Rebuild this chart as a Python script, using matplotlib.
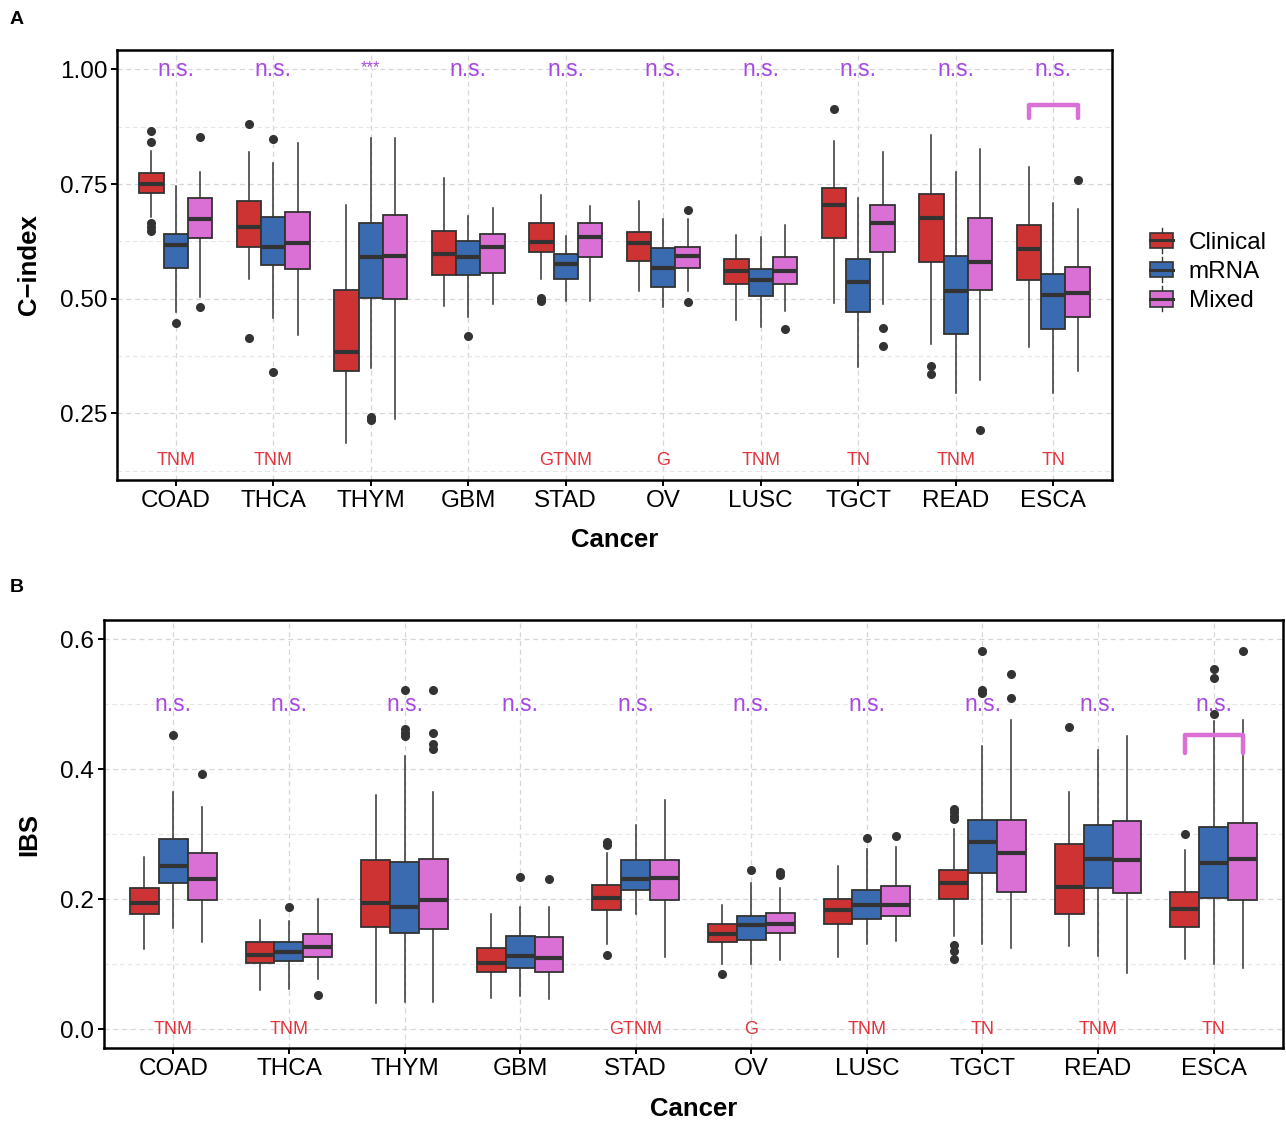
import matplotlib
matplotlib.use("Agg")
import matplotlib.pyplot as plt
from matplotlib.legend_handler import HandlerBase
from matplotlib.patches import Patch, Rectangle
from matplotlib.lines import Line2D
from matplotlib.ticker import MultipleLocator, FormatStrFormatter

plt.rcParams['font.family'] = ['Liberation Sans', 'DejaVu Sans']

cancers = ['COAD', 'THCA', 'THYM', 'GBM', 'STAD', 'OV', 'LUSC', 'TGCT', 'READ', 'ESCA']
methods = ['Clinical', 'mRNA', 'Mixed']
colors = ['#CD3333', '#3A6AB0', '#DA70D6']

# C-index per cancer: [Clinical, mRNA, Mixed] -> (whislo, q1, med, q3, whishi)
cidx_box = [
    [(0.679, 0.731, 0.750, 0.775, 0.823), (0.470, 0.567, 0.616, 0.642, 0.746), (0.504, 0.632, 0.673, 0.719, 0.776)],
    [(0.544, 0.613, 0.656, 0.713, 0.820), (0.457, 0.573, 0.613, 0.679, 0.795), (0.422, 0.564, 0.622, 0.688, 0.839)],
    [(0.186, 0.342, 0.385, 0.520, 0.705), (0.348, 0.502, 0.592, 0.664, 0.850), (0.239, 0.499, 0.593, 0.682, 0.850)],
    [(0.485, 0.551, 0.597, 0.648, 0.764), (0.461, 0.551, 0.590, 0.626, 0.680), (0.488, 0.557, 0.612, 0.642, 0.698)],
    [(0.544, 0.601, 0.623, 0.664, 0.727), (0.495, 0.542, 0.576, 0.598, 0.637), (0.495, 0.591, 0.634, 0.664, 0.702)],
    [(0.517, 0.583, 0.622, 0.645, 0.714), (0.483, 0.526, 0.567, 0.610, 0.674), (0.517, 0.567, 0.593, 0.613, 0.674)],
    [(0.453, 0.532, 0.560, 0.586, 0.639), (0.439, 0.507, 0.541, 0.564, 0.635), (0.474, 0.532, 0.560, 0.592, 0.661)],
    [(0.491, 0.632, 0.704, 0.741, 0.844), (0.352, 0.470, 0.536, 0.586, 0.720), (0.488, 0.602, 0.664, 0.704, 0.820)],
    [(0.401, 0.580, 0.677, 0.728, 0.857), (0.295, 0.424, 0.517, 0.594, 0.776), (0.323, 0.520, 0.580, 0.675, 0.826)],
    [(0.395, 0.540, 0.608, 0.661, 0.786), (0.294, 0.433, 0.508, 0.554, 0.708), (0.342, 0.461, 0.512, 0.570, 0.695)],
]
cidx_out = [
    [[0.865, 0.841, 0.666, 0.657, 0.648], [0.447], [0.852, 0.483]],
    [[0.881, 0.414], [0.849, 0.340], []],
    [[], [0.242, 0.236], []],
    [[], [0.419], []],
    [[0.501, 0.494], [], []],
    [[], [], [0.693, 0.493]],
    [[], [], [0.433]],
    [[0.914], [], [0.436, 0.397]],
    [[0.354, 0.336], [], [0.215]],
    [[], [], [0.758]],
]

# IBS per cancer
ibs_box = [
    [(0.124, 0.177, 0.194, 0.217, 0.266), (0.156, 0.226, 0.252, 0.293, 0.366), (0.134, 0.199, 0.231, 0.271, 0.343)],
    [(0.061, 0.103, 0.114, 0.135, 0.169), (0.062, 0.105, 0.119, 0.135, 0.167), (0.078, 0.111, 0.127, 0.147, 0.200)],
    [(0.040, 0.158, 0.194, 0.261, 0.360), (0.042, 0.149, 0.189, 0.258, 0.421), (0.042, 0.155, 0.199, 0.263, 0.366)],
    [(0.049, 0.089, 0.103, 0.126, 0.177), (0.051, 0.094, 0.113, 0.144, 0.189), (0.047, 0.089, 0.110, 0.142, 0.189)],
    [(0.132, 0.184, 0.203, 0.223, 0.272), (0.177, 0.214, 0.231, 0.261, 0.315), (0.111, 0.199, 0.233, 0.261, 0.353)],
    [(0.100, 0.135, 0.147, 0.163, 0.191), (0.100, 0.137, 0.161, 0.175, 0.226), (0.107, 0.149, 0.163, 0.179, 0.217)],
    [(0.111, 0.162, 0.184, 0.201, 0.252), (0.132, 0.170, 0.192, 0.214, 0.278), (0.136, 0.175, 0.191, 0.221, 0.281)],
    [(0.144, 0.201, 0.226, 0.245, 0.309), (0.132, 0.241, 0.289, 0.322, 0.436), (0.126, 0.212, 0.271, 0.322, 0.476)],
    [(0.128, 0.177, 0.219, 0.286, 0.366), (0.113, 0.217, 0.263, 0.315, 0.430), (0.087, 0.210, 0.261, 0.320, 0.452)],
    [(0.109, 0.157, 0.186, 0.212, 0.276), (0.100, 0.203, 0.256, 0.311, 0.475), (0.095, 0.199, 0.263, 0.318, 0.476)],
]
ibs_out = [
    [[], [0.453], [0.393]],
    [[], [0.189], [0.053]],
    [[], [0.522, 0.462, 0.456, 0.451], [0.522, 0.456, 0.439, 0.432]],
    [[], [0.234], [0.232]],
    [[0.289, 0.284, 0.115], [], []],
    [[0.086], [0.245], [0.243, 0.237]],
    [[], [0.294], [0.297]],
    [[0.339, 0.334, 0.328, 0.324, 0.130, 0.121, 0.108], [0.582, 0.523, 0.518], [0.547, 0.510]],
    [[0.466], [], []],
    [[0.301], [0.554, 0.540, 0.485], [0.582]],
]

cidx_sig = ['n.s.', 'n.s.', '***', 'n.s.', 'n.s.', 'n.s.', 'n.s.', 'n.s.', 'n.s.', 'n.s.']
ibs_sig = ['n.s.'] * 10
stage_labels = ['TNM', 'TNM', '', '', 'GTNM', 'G', 'TNM', 'TN', 'TNM', 'TN']

SIG_COL = '#A648E3'
STAGE_COL = '#E5333B'
EDGE = '#333333'


class BoxKey(HandlerBase):
    def create_artists(self, legend, orig_handle, xdescent, ydescent,
                       width, height, fontsize, trans):
        fc = orig_handle.get_facecolor()
        x0, y0 = -xdescent, -ydescent
        bh = height * 0.62
        by = y0 + (height - bh) / 2
        rect = Rectangle((x0, by), width, bh, facecolor=fc, edgecolor=EDGE,
                         lw=1.2, transform=trans)
        med = Line2D([x0, x0 + width], [y0 + height / 2] * 2, color=EDGE,
                     lw=2.2, transform=trans)
        wt = Line2D([x0 + width / 2] * 2, [by + bh, y0 + height], color=EDGE,
                    lw=1.0, transform=trans)
        wb = Line2D([x0 + width / 2] * 2, [y0, by], color=EDGE,
                    lw=1.0, transform=trans)
        return [wt, wb, rect, med]


def draw_panel(ax, boxes, outs, sig, sig_y, stage_y, ylim, major, minor, ylabel,
               bracket):
    width = 0.25
    for j in range(3):
        stats = []
        pos = []
        for i in range(len(cancers)):
            lo, q1, med, q3, hi = boxes[i][j]
            stats.append(dict(whislo=lo, q1=q1, med=med, q3=q3, whishi=hi,
                              fliers=outs[i][j]))
            pos.append(i + 1 + (j - 1) * width)
        ax.bxp(stats, positions=pos, widths=width, patch_artist=True,
               showcaps=False,
               boxprops=dict(facecolor=colors[j], edgecolor=EDGE, lw=1.3),
               medianprops=dict(color=EDGE, lw=3.0, solid_capstyle='butt'),
               whiskerprops=dict(color=EDGE, lw=1.1),
               flierprops=dict(marker='o', markerfacecolor=EDGE,
                               markeredgecolor=EDGE, markersize=5.5),
               zorder=3)
    for i in range(len(cancers)):
        if sig[i] == '***':
            ax.text(i + 1, sig_y + 0.004, sig[i], color=SIG_COL, fontsize=12,
                    ha='center', va='center', zorder=5)
        else:
            ax.text(i + 1, sig_y, sig[i], color=SIG_COL, fontsize=16.5,
                    ha='center', va='center', zorder=5)
        if stage_labels[i]:
            ax.text(i + 1, stage_y, stage_labels[i], color=STAGE_COL,
                    fontsize=13, ha='center', va='center', zorder=5)
    # comparison bracket (Clinical vs Mixed)
    bi, btop, bbot = bracket
    xl, xr = bi + 1 - width, bi + 1 + width
    ax.plot([xl, xl, xr, xr], [bbot, btop, btop, bbot], color='#DA70D6',
            lw=3.2, solid_capstyle='round', solid_joinstyle='round', zorder=6)

    ax.set_xlim(0.4, 10.6)
    ax.set_ylim(*ylim)
    ax.set_xticks(range(1, len(cancers) + 1))
    ax.set_xticklabels(cancers)
    ax.yaxis.set_major_locator(MultipleLocator(major))
    ax.yaxis.set_minor_locator(MultipleLocator(minor))
    ax.grid(True, which='major', axis='both', color='#D6D6D6', ls=(0, (4, 3)),
            lw=0.9, zorder=0)
    ax.grid(True, which='minor', axis='y', color='#E6E6E6', ls=(0, (4, 3)),
            lw=0.8, zorder=0)
    ax.set_axisbelow(True)
    ax.tick_params(axis='both', which='major', labelsize=17.5, length=4,
                   width=1.4, color='black', labelcolor='black', pad=3)
    ax.tick_params(axis='y', which='minor', length=0)
    for s in ax.spines.values():
        s.set_linewidth(1.8)
        s.set_color('black')
    ax.set_xlabel('Cancer', fontsize=18.5, fontweight='bold', labelpad=12)
    ax.set_ylabel(ylabel, fontsize=18.5, fontweight='bold', labelpad=14)


W, H = 1286, 1124
fig = plt.figure(figsize=(W / 100, H / 100), dpi=100)
axA = fig.add_axes([117.3 / W, 1 - 480 / H, 994.4 / W, 430 / H])
axB = fig.add_axes([104 / W, 1 - 1048.3 / H, 1179 / W, 428.3 / H])

draw_panel(axA, cidx_box, cidx_out, cidx_sig, 1.0, 0.148, (0.105, 1.042),
           0.25, 0.125, 'C\u2212index', (9, 0.922, 0.894))
axA.yaxis.set_major_formatter(FormatStrFormatter('%.2f'))
axA.set_yticks([0.25, 0.5, 0.75, 1.0])

draw_panel(axB, ibs_box, ibs_out, ibs_sig, 0.5, 0.0, (-0.029, 0.630),
           0.2, 0.1, 'IBS', (9, 0.453, 0.425))
axB.yaxis.set_major_formatter(FormatStrFormatter('%.1f'))
axB.set_yticks([0.0, 0.2, 0.4, 0.6])

handles = [Patch(facecolor=c, label=m) for c, m in zip(colors, methods)]
fig.legend(handles=handles, labels=methods, handler_map={Patch: BoxKey()},
           loc='center left', bbox_to_anchor=(1150 / W, 1 - 270 / H),
           frameon=False, fontsize=17.5, handlelength=0.95, handleheight=1.2,
           labelspacing=0.15, handletextpad=0.65, borderpad=0, borderaxespad=0)

fig.text(10 / W, 1 - 19 / H, 'A', fontsize=14, fontweight='bold', va='center')
fig.text(10 / W, 1 - 588 / H, 'B', fontsize=14, fontweight='bold', va='center')

fig.savefig('out.png', dpi=100)
